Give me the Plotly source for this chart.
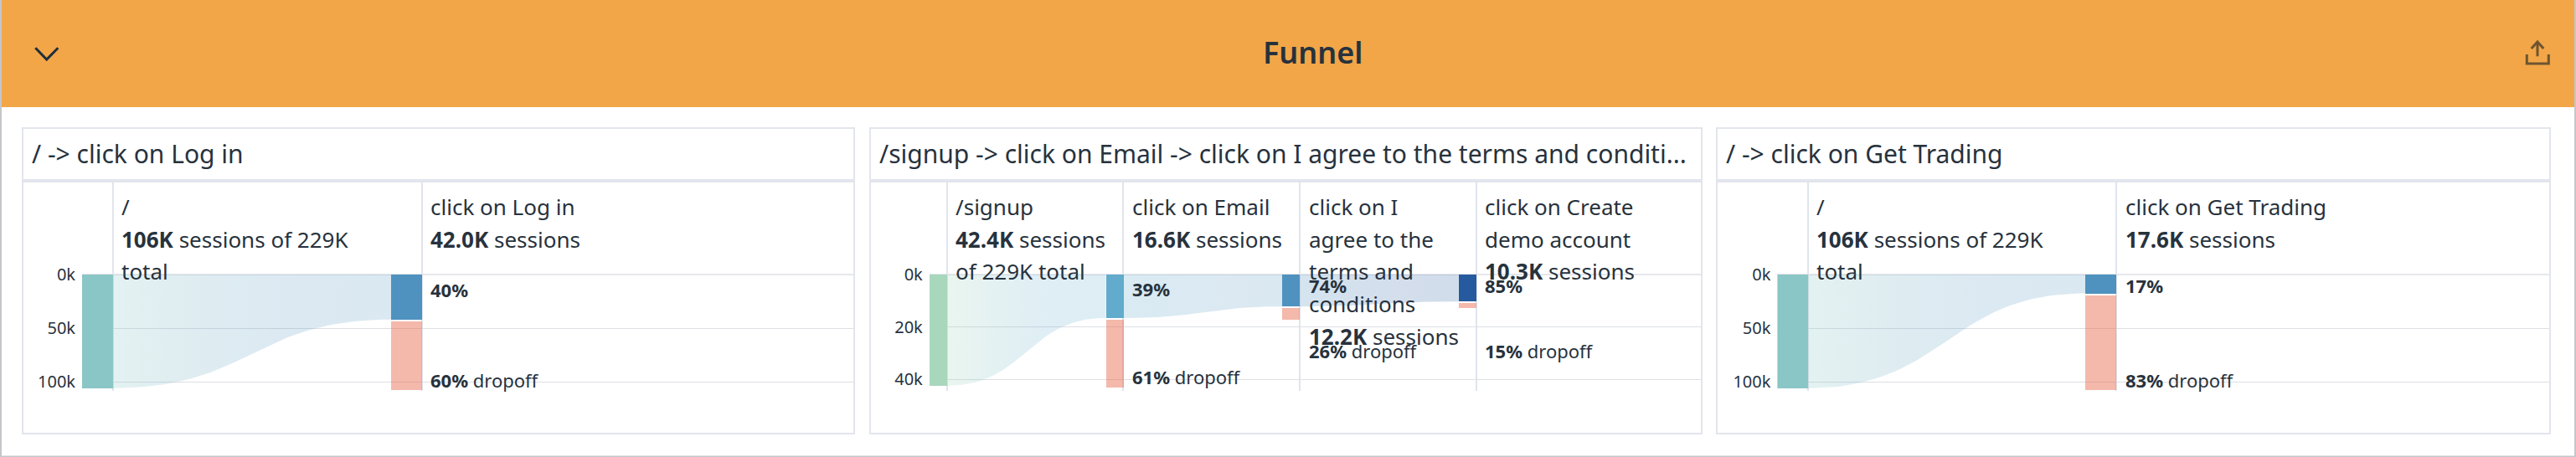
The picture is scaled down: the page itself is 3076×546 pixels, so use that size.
import numpy as np
import plotly.graph_objects as go

# ---------- data ----------
chart_title = "Funnel"
panel_titles = [
    "/ -> click on Log in",
    "/signup -> click on Email -> click on I agree to the terms and conditi...",
    "/ -> click on Get Trading",
]
sessions_k = [
    [106, 42.0],
    [42.4, 16.6, 12.2, 10.3],
    [106, 17.6],
]
step_lines = [
    [["/", "<b>106K</b> sessions of 229K", "total"],
     ["click on Log in", "<b>42.0K</b> sessions"]],
    [["/signup", "<b>42.4K</b> sessions", "of 229K total"],
     ["click on Email", "<b>16.6K</b> sessions"],
     ["click on I", "agree to the", "terms and", "conditions", "<b>12.2K</b> sessions"],
     ["click on Create", "demo account", "<b>10.3K</b> sessions"]],
    [["/", "<b>106K</b> sessions of 229K", "total"],
     ["click on Get Trading", "<b>17.6K</b> sessions"]],
]
kept_pct = [["40%"], ["39%", "74%", "85%"], ["17%"]]
drop_pct = [["60%"], ["61%", "26%", "15%"], ["83%"]]
y_ticks = [[0, 50, 100], [0, 20, 40], [0, 50, 100]]
y_tick_labels = [["0k", "50k", "100k"], ["0k", "20k", "40k"], ["0k", "50k", "100k"]]

# ---------- layout constants (pixels of the 3076x546 page) ----------
W, H = 3076, 546
INK = "#27323D"
FONT = "Noto Sans"
BORDER = "#E3E5ED"
GRID = "#DEDFE4"
ORANGE = "#F2A648"
PINK = "rgba(231,99,68,0.45)"
TOP, BOTTOM = 218, 467
ZERO_Y = 328

panels_px = [
    dict(box=(27, 1020), first=134.6, step=369.4, barw=36.6, scale=1.28,
         bars=["#8AC6C5", "#4F92BF"], keep_y=[345.5], drop_y=[453.5]),
    dict(box=(1039, 2032), first=1130.8, step=210.9, barw=21, scale=3.13,
         bars=["#A8D7BC", "#62ABCD", "#4F92BF", "#265A9E"],
         keep_y=[344.5, 340.5, 340.5], drop_y=[449.5, 418.5, 418.5]),
    dict(box=(2050, 3045), first=2159, step=368.6, barw=36.6, scale=1.28,
         bars=["#8AC6C5", "#4F92BF"], keep_y=[340.5], drop_y=[453.5]),
]


def px(x):
    return x / W


def py(y):
    return 1 - y / H


def rgba(hex_color, a):
    r, g, b = (int(hex_color[i:i + 2], 16) for i in (1, 3, 5))
    return f"rgba({r},{g},{b},{a})"


def path(points):
    return "M " + " L ".join(f"{px(x):.6f} {py(y):.6f}" for x, y in points)


fig = go.Figure()
shapes, annotations = [], []


def rect(x0, y0, x1, y1, fill, line=None, lw=0):
    shapes.append(dict(type="rect", xref="paper", yref="paper", layer="below",
                       x0=px(x0), x1=px(x1), y0=py(y1), y1=py(y0),
                       fillcolor=fill, line=dict(color=line or fill, width=lw)))


# page frame and header band
rect(0, 0, W, H, "#C4C6CA")
rect(2, 0, W - 2, H - 1.5, "#FFFFFF")
rect(2, 0, W - 2, 128, ORANGE)

for s in [
    dict(points=[(42.3, 57.3), (55.7, 71), (69.3, 57.3)], color="#1F2F3D"),
    dict(points=[(3017.3, 65), (3017.3, 76), (3043.3, 76), (3043.3, 65)], color="#6E5430"),
    dict(points=[(3030, 67.3), (3030, 50)], color="#6E5430"),
    dict(points=[(3022.7, 58), (3030, 50), (3037.3, 58)], color="#6E5430"),
]:
    shapes.append(dict(type="path", xref="paper", yref="paper", layer="above",
                       path=path(s["points"]), line=dict(color=s["color"], width=3)))

annotations.append(dict(text=chart_title, xref="paper", yref="paper", x=px(1568), y=py(62),
                        xanchor="center", yanchor="middle", showarrow=False,
                        font=dict(family=FONT, size=36, color=INK, weight=600)))

for i, p in enumerate(panels_px):
    n = "" if i == 0 else str(i + 1)
    left, right = p["box"]
    rect(left, 153, right, 518, "#FFFFFF", BORDER, 2)
    rect(left, 214, right, 218, BORDER)
    annotations.append(dict(text=panel_titles[i], xref="paper", yref="paper",
                            x=px(left + 9), y=py(183.5), xanchor="left", yanchor="middle",
                            showarrow=False, font=dict(family=FONT, size=30, color=INK)))

    barw = p["barw"] / p["step"]
    x_left = p["first"] - p["barw"]
    xr = [-barw, (right - p["first"]) / p["step"]]
    yr = [(BOTTOM - ZERO_Y) / p["scale"], (TOP - ZERO_Y) / p["scale"]]

    vals = sessions_k[i]
    steps = list(range(len(vals)))
    xa, ya = f"x{n}", f"y{n}"

    # flows between steps, drawn behind the bars
    for k in steps[:-1]:
        t = np.linspace(0, 1, 60)
        x0, x1 = k, k + 1 - barw
        xm = (x0 + x1) / 2
        xs = (1 - t) ** 3 * x0 + 3 * (1 - t) ** 2 * t * xm + 3 * (1 - t) * t ** 2 * xm + t ** 3 * x1
        ys = vals[k] + (vals[k + 1] - vals[k]) * (3 * t ** 2 - 2 * t ** 3)
        fig.add_trace(go.Scatter(
            x=np.concatenate([[x0], xs, [x1, x0]]),
            y=np.concatenate([[0], ys, [0, 0]]),
            mode="lines", line=dict(width=0), fill="toself",
            fillgradient=dict(type="horizontal", start=x0, stop=x1,
                              colorscale=[[0, rgba(p["bars"][k], 0.24)],
                                          [0.6, rgba(p["bars"][k + 1], 0.2)],
                                          [1, rgba(p["bars"][k + 1], 0.21)]]),
            hoverinfo="skip", showlegend=False, xaxis=xa, yaxis=ya))

    # kept bars
    fig.add_trace(go.Bar(
        x=[k - barw / 2 for k in steps], y=vals, base=[0] * len(vals), width=barw,
        marker=dict(color=p["bars"], line=dict(width=0)),
        showlegend=False, hoverinfo="skip", xaxis=xa, yaxis=ya))

    # dropoff bars, with a small white gap under the kept bar
    gap = 2 / p["scale"]
    fig.add_trace(go.Bar(
        x=[k - barw / 2 for k in steps[1:]],
        y=[vals[k - 1] - vals[k] for k in steps[1:]],
        base=[vals[k] + gap for k in steps[1:]], width=barw,
        marker=dict(color=PINK, line=dict(width=0)),
        showlegend=False, hoverinfo="skip", xaxis=xa, yaxis=ya))

    ax = dict(domain=[px(x_left), px(right - 1)], range=xr, tickmode="array", tickvals=steps,
              showticklabels=False, showgrid=True, gridcolor="#E0E4EC", gridwidth=2,
              zeroline=False, showline=False, ticks="", anchor=ya, fixedrange=True, automargin=False)
    ay = dict(domain=[py(BOTTOM), py(TOP)], range=yr, tickmode="array", tickvals=y_ticks[i],
              ticktext=y_tick_labels[i], showgrid=True, gridcolor=GRID, gridwidth=1,
              zeroline=True, zerolinecolor="#E6E7EC", zerolinewidth=2, showline=False,
              ticks="outside", ticklen=3,
              tickcolor="rgba(0,0,0,0)", tickfont=dict(family=FONT, size=20, color=INK),
              anchor=xa, fixedrange=True, automargin=False)
    fig.update_layout({f"xaxis{n}": ax, f"yaxis{n}": ay})

    # step captions (one annotation per wrapped line)
    for k, lines in enumerate(step_lines[i]):
        for j, line in enumerate(lines):
            annotations.append(dict(text=line, xref=xa, yref="paper", x=k, xshift=8.5,
                                    y=py(247 + 38.7 * j), xanchor="left", yanchor="middle",
                                    showarrow=False,
                                    font=dict(family=FONT, size=26, color=INK)))
    # conversion and dropoff labels
    for k in steps[1:]:
        annotations.append(dict(text=f"<b>{kept_pct[i][k - 1]}</b>", xref=xa, yref="paper", x=k,
                                xshift=8.5, y=py(p["keep_y"][k - 1]), xanchor="left",
                                yanchor="middle", showarrow=False,
                                font=dict(family=FONT, size=22, color=INK)))
        annotations.append(dict(text=f"<b>{drop_pct[i][k - 1]}</b> dropoff", xref=xa, yref="paper",
                                x=k, xshift=8.5, y=py(p["drop_y"][k - 1]), xanchor="left",
                                yanchor="middle", showarrow=False,
                                font=dict(family=FONT, size=22, color=INK)))

fig.update_layout(
    width=W, height=H, margin=dict(l=0, r=0, t=0, b=0, pad=0, autoexpand=False), autosize=False,
    paper_bgcolor="#FFFFFF", plot_bgcolor="rgba(0,0,0,0)",
    barmode="overlay", showlegend=False, bargap=0,
    shapes=shapes, annotations=annotations,
    font=dict(family=FONT, color=INK),
)

fig.write_html("out.html", config=dict(displayModeBar=False),
               post_script="document.body.style.margin='0';document.body.style.overflow='hidden';")
